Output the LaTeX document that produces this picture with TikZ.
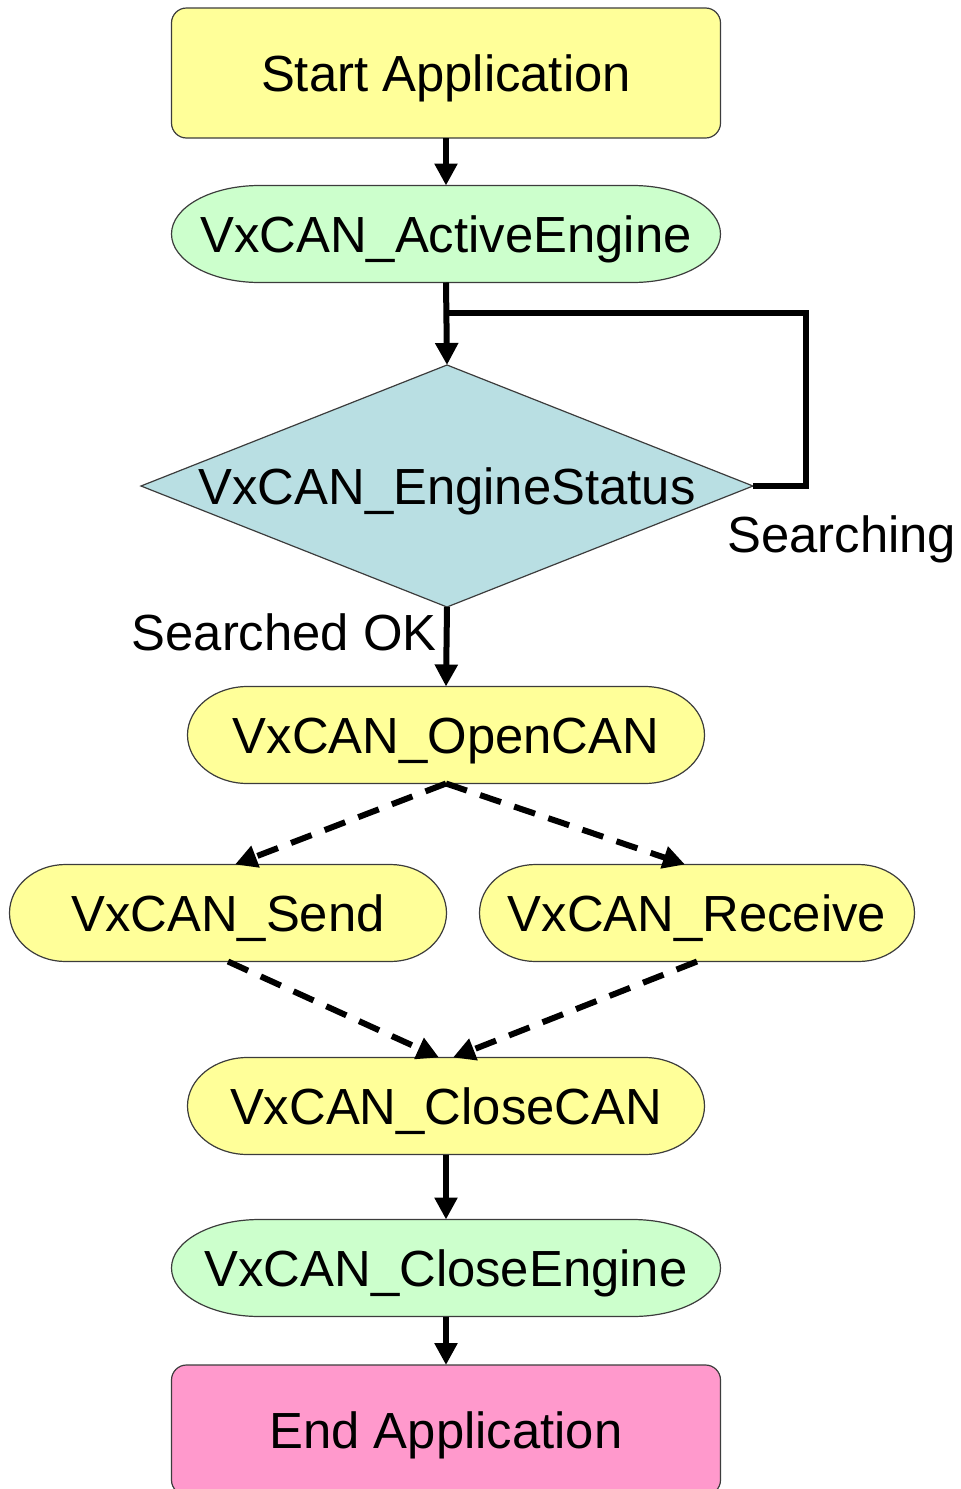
\documentclass[tikz,border=0pt]{standalone}
\usepackage{fontspec}
\setmainfont{Liberation Sans}
\usepackage{xcolor}
\usetikzlibrary{arrows.meta,shapes.geometric,backgrounds}
\definecolor{startyellow}{HTML}{FFFF99}
\definecolor{callgreen}{HTML}{CCFFCC}
\definecolor{statusblue}{HTML}{B9DFE3}
\definecolor{endpink}{HTML}{FF99CC}
\definecolor{edgegray}{HTML}{3C3C3C}

\begin{document}
\begin{tikzpicture}[x=0.5pt,y=-0.5pt,
  font=\fontsize{25.4}{30}\selectfont,
  txt/.style={inner sep=0pt,outer sep=0pt,text height=18.3pt,text depth=0pt},
  box/.style={txt,draw=edgegray,line width=0.6pt,rounded corners=7.5pt,minimum width=274.5pt,minimum height=65pt},
  call/.style={txt,minimum height=48.5pt},
  decision/.style={txt,diamond,draw=edgegray,line width=0.6pt,fill=statusblue,minimum width=306pt,minimum height=121pt},
  capsule/.style={draw=edgegray,line width=0.6pt},
  flow/.style={line width=3pt,-{Triangle[length=11pt,width=11pt]}},
  dashflow/.style={flow,dash pattern=on 11pt off 7pt}]
  \useasboundingbox (0,0) rectangle (961,1489);

  % main sequence
  \node[box,fill=startyellow] (start) at (446,73) {Start Application};
  \node[call,minimum width=274.5pt] (active) at (446,234) {VxCAN\_ActiveEngine};
  \node[decision] (status) at (447,486) {};
  \node[txt] (statustext) at (status.center) {VxCAN\_EngineStatus};
  \node[call,minimum width=258.5pt] (open) at (446,735) {VxCAN\_OpenCAN};
  \node[call,minimum width=218.5pt] (send) at (228,913) {VxCAN\_Send};
  \node[call,minimum width=217.5pt] (receive) at (697,913) {VxCAN\_Receive};
  \node[call,minimum width=258.5pt] (close) at (446,1106) {VxCAN\_CloseCAN};
  \node[call,minimum width=274.5pt] (closeengine) at (446,1268) {VxCAN\_CloseEngine};
  \node[box,fill=endpink] (finish) at (446,1430) {End Application};

  % call outlines: flat top and bottom, half-ellipse ends
  \begin{scope}[on background layer]
    \foreach \n/\c/\r in {active/callgreen/44pt,open/startyellow/30pt,send/startyellow/28pt,
                          receive/startyellow/28pt,close/startyellow/30pt,closeengine/callgreen/44pt}
      \filldraw[capsule,fill=\c] ([xshift=\r]\n.north west) -- ([xshift=-\r]\n.north east)
        .. controls ([xshift=-0.448*\r]\n.north east) and ([yshift=13.4pt]\n.east) .. (\n.east)
        .. controls ([yshift=-13.4pt]\n.east) and ([xshift=-0.448*\r]\n.south east) .. ([xshift=-\r]\n.south east)
        -- ([xshift=\r]\n.south west)
        .. controls ([xshift=0.448*\r]\n.south west) and ([yshift=-13.4pt]\n.west) .. (\n.west)
        .. controls ([yshift=13.4pt]\n.west) and ([xshift=0.448*\r]\n.north west) .. cycle;
  \end{scope}

  \foreach \a/\b in {start/active,active/status,status/open,close/closeengine,closeengine/finish}
    \draw[flow] (\a.south) -- (\b.north);

  % polling loop back onto the line above the diamond
  \coordinate (loopjoin) at (447,313);
  \draw[line width=3pt] (status.east) -- ++(53,0) |- (loopjoin);
  \node[anchor=base west,inner sep=0pt] (searching) at (727,552) {Searching};
  \node[anchor=base east,inner sep=0pt] (searchedok) at (437,650) {Searched OK};

  % send / receive branches
  \draw[dashflow] (open.south) -- ([xshift=3.5pt]send.north);
  \draw[dashflow] (open.south) -- ([xshift=-6pt]receive.north);
  \draw[dashflow] (send.south) -- ([xshift=-3.5pt]close.north);
  \draw[dashflow] (receive.south) -- ([xshift=3.5pt]close.north);
\end{tikzpicture}
\end{document}
